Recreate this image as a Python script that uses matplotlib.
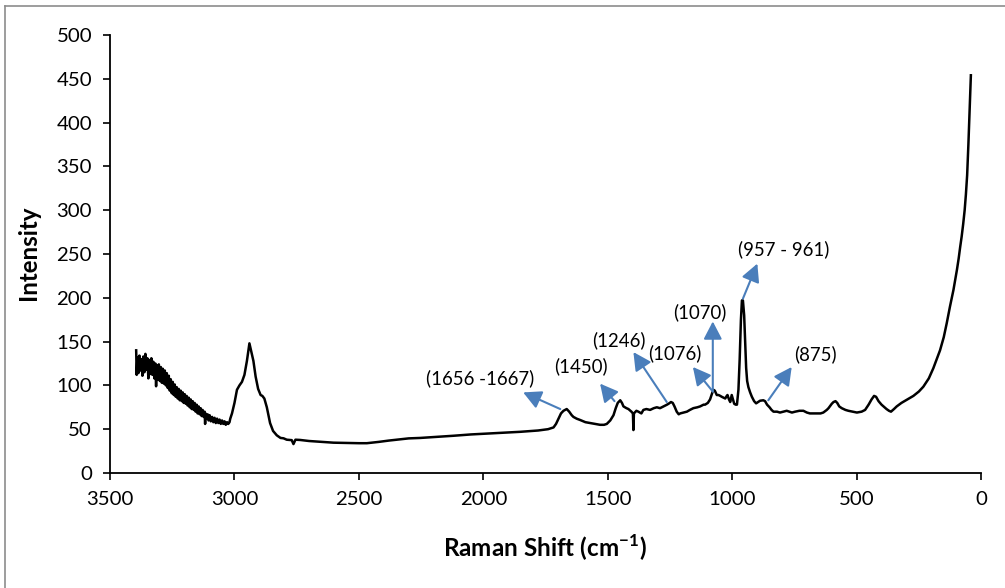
import matplotlib
matplotlib.use("Agg")
import matplotlib.pyplot as plt
from matplotlib.lines import Line2D

plt.rcParams['font.family'] = ['Lato', 'DejaVu Sans']
plt.rcParams['mathtext.fontset'] = 'custom'
plt.rcParams['mathtext.rm'] = 'Lato'
plt.rcParams['mathtext.bf'] = 'Lato:bold'

# spectrum (Raman shift in cm-1, intensity)
shift = [3395, 3393, 3390, 3386, 3382, 3378, 3374, 3370, 3366, 3362, 3358, 3354,
         3350, 3346, 3342, 3338, 3334, 3330, 3326, 3322, 3318, 3315, 3312, 3308,
         3304, 3300, 3296, 3292, 3288, 3284, 3280, 3276, 3272, 3268, 3264, 3260,
         3256, 3252, 3248, 3244, 3240, 3236, 3232, 3228, 3224, 3220, 3216, 3212,
         3208, 3204, 3200, 3196, 3192, 3188, 3184, 3180, 3176, 3172, 3168, 3164,
         3160, 3156, 3152, 3148, 3144, 3140, 3136, 3132, 3128, 3124, 3120, 3118,
         3116, 3112, 3108, 3104, 3100, 3095, 3090, 3085, 3080, 3075, 3070, 3065,
         3060, 3055, 3050, 3045, 3040, 3035, 3030, 3025, 3020, 3017,
         3010, 3000, 2990, 2980, 2970, 2960, 2950, 2940, 2932, 2924, 2915, 2905,
         2895, 2888, 2880, 2870, 2857, 2845, 2830, 2815, 2803, 2790, 2770, 2763,
         2755, 2736, 2700, 2650, 2602, 2550, 2500, 2468, 2420, 2380, 2334, 2300,
         2254, 2200, 2120, 2050, 1986, 1920, 1852, 1780, 1740, 1718, 1708, 1698,
         1688, 1678, 1665, 1655, 1645, 1638, 1625, 1611, 1590, 1571, 1550, 1531,
         1515, 1504, 1490, 1477, 1468, 1460, 1450, 1443, 1437, 1425, 1417, 1405,
         1399, 1397, 1395, 1385, 1377, 1365, 1357, 1345, 1330, 1315, 1303, 1290,
         1276, 1262, 1256, 1246, 1239, 1232, 1223, 1215, 1209, 1195, 1182, 1170,
         1156, 1140, 1129, 1115, 1109, 1098, 1089, 1082, 1076, 1070, 1062, 1055,
         1048, 1042, 1035, 1028, 1022, 1019, 1013, 1008, 1004, 1002, 997, 992,
         986, 981, 975, 970, 965, 961, 957, 952, 948, 944, 940, 935,
         928, 921, 912, 904, 896, 888, 875, 868, 860, 850, 842, 834,
         820, 808, 794, 781, 770, 760, 747, 730, 714, 700, 688, 674,
         660, 645, 634, 620, 613, 600, 593, 585, 578, 570, 560, 545,
         533, 515, 499, 480, 466, 452, 440, 430, 422, 412, 400, 392,
         380, 370, 362, 350, 339, 320, 305, 290, 272, 250, 232, 210,
         192, 178, 165, 150, 138, 125, 111, 97, 90, 84, 78, 72,
         66, 61, 56, 51, 46, 41]
intensity = [140, 112, 132, 114, 134, 117, 130, 111, 133, 115, 136, 118,
             131, 108, 129, 113, 131, 112, 127, 108, 125, 99, 123, 107,
             124, 105, 121, 103, 119, 102, 117, 100, 114, 97, 111, 94,
             107, 91, 104, 89, 101, 87, 98, 85, 96, 83, 94, 82,
             92, 80, 90, 79, 88, 77, 86, 75, 84, 73, 82, 72,
             80, 70, 78, 68, 76, 67, 74, 65, 72, 64, 70, 56,
             68, 62, 67, 60, 66, 59, 64, 58, 63, 57, 62, 57,
             61, 56, 60, 56, 59, 55, 58, 56, 58, 62,
             68, 80, 95, 100, 104, 112, 128, 148, 138, 128, 110, 96,
             89, 88, 85, 75, 57, 48, 43, 40, 39.6, 38, 37.5, 33,
             38, 37.7, 36.5, 35.5, 34.6, 34.3, 34, 34, 35.5, 37, 38.5, 39.5,
             40, 41, 42.5, 44, 45, 46, 47, 48.5, 50, 52, 56, 62,
             68, 71, 73, 70, 66, 64, 62, 60.5, 58, 57, 56, 55,
             55, 56, 60, 66, 74, 80, 83, 80, 76, 74, 73, 70,
             68, 49, 68, 71, 70, 68, 72, 73, 72, 74, 75, 74,
             76, 78, 79, 81, 80, 76, 70, 67, 68, 69, 70, 72,
             74, 75, 76, 78, 78, 80, 84, 90, 95, 94, 89, 89,
             88, 87, 86, 85, 88, 89, 84, 81, 86, 89, 84, 79,
             78, 78, 95, 130, 175, 197, 197, 180, 150, 120, 105, 98,
             92, 87, 82, 79.5, 81, 82.5, 83, 82, 78, 75, 72, 70,
             70, 69, 70, 71, 70, 69, 70, 71, 71, 69, 68, 68,
             68, 68, 69, 72, 74, 79, 81, 82, 80, 76, 74, 72,
             71, 70, 69, 70, 72, 78, 84, 88, 87, 82, 78, 76,
             73, 71, 70, 73, 76, 80, 82.5, 85, 88, 93, 98.5, 108,
             119.5, 130, 140, 155, 171, 190, 209, 232, 245, 258, 270, 284,
             300, 318, 340, 375, 415, 454]

# peak labels: text, arrow tail (on curve), arrow head, text centre
peak_labels = ["(1656 -1667)", "(1450)", "(1246)", "(1076)", "(1070)", "(957 - 961)", "(875)"]
tail_xy = [(1691, 73), (1473, 82), (1263, 81), (1078, 93), (1078, 93), (957, 199), (855, 83)]
head_xy = [(1840, 92), (1531, 102), (1397, 138), (1158, 121), (1078, 173), (899, 239), (761, 121)]
text_xy = [(2013, 108), (1607, 122), (1457, 152), (1229, 137), (1132, 183), (794, 256), (667, 136)]

fig = plt.figure(figsize=(10.05, 5.88), dpi=100)
ax = fig.add_axes([0.1095, 0.1956, 0.8667, 0.7449])

# pick font sizes so the texts get the widths they have in the picture
fig.canvas.draw()
rend = fig.canvas.get_renderer()
def fit_size(s, width_px, weight='normal'):
    t = fig.text(0, 0, s, fontsize=10, fontweight=weight)
    w = t.get_window_extent(rend).width
    t.remove()
    return 10 * width_px / w

tick_fs = fit_size('3500', 47)
note_fs = fit_size('(957 - 961)', 91)
xlab_fs = fit_size(r'Raman Shift (cm$^{\mathbf{-1}}$)', 205, 'bold')
ylab_fs = fit_size('Intensity', 95, 'bold')

ax.plot(shift, intensity, color='black', lw=1.8, zorder=3)

arrow_col = '#4a7ebb'
for lab, t, h, p in zip(peak_labels, tail_xy, head_xy, text_xy):
    ax.annotate('', xy=h, xytext=t,
                arrowprops=dict(arrowstyle='-|>,head_length=0.54,head_width=0.28',
                                color=arrow_col, lw=1.5, mutation_scale=20,
                                shrinkA=0, shrinkB=0), zorder=4)
    ax.text(p[0], p[1], lab, ha='center', va='center', fontsize=note_fs, zorder=5)

ax.set_xlim(3500, 0)
ax.set_ylim(0, 500)
ax.set_xticks(range(0, 3501, 500))
ax.set_yticks(range(0, 501, 50))
ax.spines['top'].set_visible(False)
ax.spines['right'].set_visible(False)
for s in ['left', 'bottom']:
    ax.spines[s].set_linewidth(1.3)
ax.tick_params(direction='out', length=5, width=1.2, labelsize=tick_fs, pad=8)

ax.set_xlabel(r'Raman Shift (cm$^{\mathbf{-1}}$)', fontsize=xlab_fs, fontweight='bold')
ax.set_ylabel('Intensity', fontsize=ylab_fs, fontweight='bold')
ax.xaxis.set_label_coords(0.4994, -0.137)
ax.yaxis.set_label_coords(-0.080, 0.502)

# grey frame of the chart area
fig.add_artist(Line2D([0.005, 0.005], [0, 0.9898], transform=fig.transFigure, color='#8c8c8c', lw=1.2))
fig.add_artist(Line2D([0.005, 1], [0.9898, 0.9898], transform=fig.transFigure, color='#8c8c8c', lw=1.2))

fig.savefig('out.png', dpi=100)
